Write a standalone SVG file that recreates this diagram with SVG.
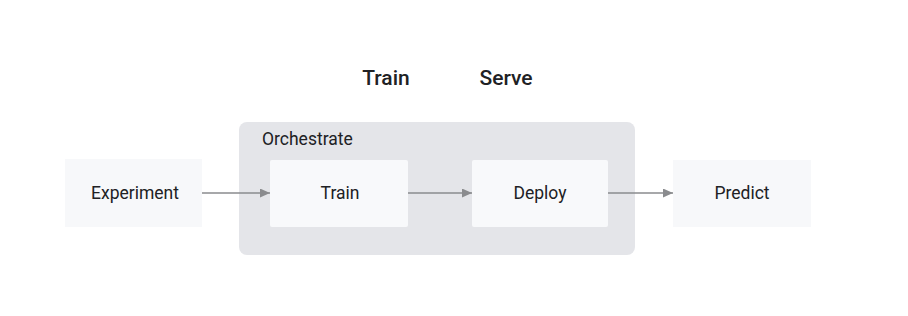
<svg xmlns="http://www.w3.org/2000/svg" width="908" height="316" viewBox="0 0 908 316">
<style>
.box{fill:#f7f8fa}
.inner{fill:#f8f9fb}
.lbl{font-family:Roboto,"Liberation Sans",sans-serif;font-size:17.5px;fill:#202124;text-anchor:middle;dominant-baseline:central}
.hdr{font-family:Roboto,"Liberation Sans",sans-serif;font-size:21px;fill:#202124;text-anchor:middle;font-weight:500}
.conn{stroke:#8a8b8e;stroke-width:1.6;fill:none;marker-end:url(#ah)}
</style>
<defs>
<marker id="ah" viewBox="0 0 10 10" refX="10" refY="5" markerWidth="10" markerHeight="9" markerUnits="userSpaceOnUse" orient="auto" preserveAspectRatio="none">
<path d="M0,0 L10,5 L0,10 z" fill="#8a8b8e"/>
</marker>
</defs>
<rect width="908" height="316" fill="#ffffff"/>
<text class="hdr" x="386" y="85">Train</text>
<text class="hdr" x="506" y="85">Serve</text>
<g id="orchestrate">
<rect x="239" y="122" width="396" height="133" rx="8" fill="#e4e5e9"/>
<text x="262" y="145" font-family="Roboto,'Liberation Sans',sans-serif" font-size="17.5" fill="#202124">Orchestrate</text>
</g>
<g id="experiment">
<rect class="box" x="65" y="159" width="137" height="68"/>
<text class="lbl" x="135" y="193">Experiment</text>
</g>
<g id="train">
<rect class="inner" x="270" y="160" width="138" height="67" rx="2"/>
<text class="lbl" x="340" y="193">Train</text>
</g>
<g id="deploy">
<rect class="inner" x="472" y="160" width="136" height="67" rx="2"/>
<text class="lbl" x="540" y="193">Deploy</text>
</g>
<g id="predict">
<rect class="box" x="673" y="160" width="138" height="67"/>
<text class="lbl" x="742" y="193">Predict</text>
</g>
<g id="connectors">
<line class="conn" x1="202" y1="193" x2="270" y2="193"/>
<line class="conn" x1="408" y1="193" x2="472" y2="193"/>
<line class="conn" x1="608" y1="193" x2="673" y2="193"/>
</g>
</svg>
